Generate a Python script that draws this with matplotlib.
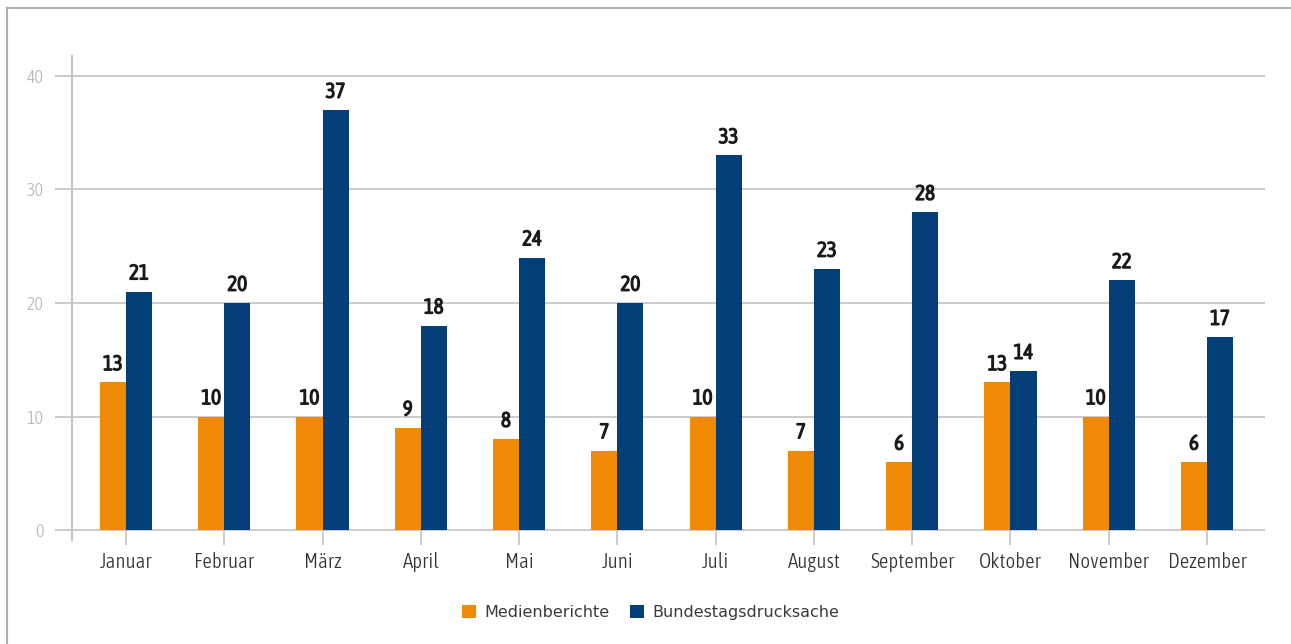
import matplotlib
matplotlib.use('Agg')
from matplotlib import pyplot as plt
from matplotlib import font_manager
from matplotlib.font_manager import FontProperties
from matplotlib.lines import Line2D
import matplotlib.patheffects as pe
import numpy as np

months = ['Januar', 'Februar', 'März', 'April', 'Mai', 'Juni', 'Juli',
          'August', 'September', 'Oktober', 'November', 'Dezember']
medien = [13, 10, 10, 9, 8, 7, 10, 7, 6, 13, 10, 6]
bundestag = [21, 20, 37, 18, 24, 20, 33, 23, 28, 14, 22, 17]
yticks = [0, 10, 20, 30, 40]

orange = '#F08A04'
blue = '#033E78'
grid_c = '#C4C4C4'

# look for a narrow font, the reference uses a condensed face
def narrow_font(weight):
    cands = [f for f in font_manager.fontManager.ttflist
             if f.style == 'normal' and ('Narrow' in f.name or 'Condensed' in f.name
                                         or f.stretch in ('condensed', 'semi-condensed', 'extra-condensed'))]
    if not cands:
        return None
    def w(f):
        try:
            return int(f.weight)
        except ValueError:
            return {'bold': 700, 'normal': 400, 'regular': 400, 'light': 300}.get(str(f.weight), 400)
    cands.sort(key=lambda f: abs(w(f) - weight))
    return cands[0].fname

reg_f = narrow_font(300)
reg_fp = FontProperties(fname=reg_f) if reg_f else FontProperties(family='DejaVu Sans')
shrink = 1.0 if reg_f else 0.85

fig = plt.figure(figsize=(12.91, 6.44), dpi=100)
# frame around the picture (left and top only)
fig.add_artist(Line2D([7 / 1291, 7 / 1291], [0, 1 - 8 / 644], transform=fig.transFigure, color='#B0B0B0', lw=1.5))
fig.add_artist(Line2D([7 / 1291, 1], [1 - 8 / 644, 1 - 8 / 644], transform=fig.transFigure, color='#B0B0B0', lw=1.5))

ax = fig.add_axes([72 / 1291, (644 - 540) / 644, (1265 - 72) / 1291, (540 - 56) / 644])
x = np.arange(len(months))
w = 0.265
b1 = ax.bar(x - w / 2, medien, w, color=orange, label='Medienberichte', zorder=3)
b2 = ax.bar(x + w / 2, bundestag, w, color=blue, label='Bundestagsdrucksache', zorder=3)

# value labels: condensed face, thickened with a stroke to look bold
for bars in (b1, b2):
    for r in bars:
        t = ax.annotate(str(int(r.get_height())), (r.get_x() + r.get_width() / 2, r.get_height()),
                        xytext=(0, 6), textcoords='offset points', ha='center', va='bottom',
                        color='#1A1A1A', fontproperties=reg_fp,
                        path_effects=[pe.withStroke(linewidth=1.1, foreground='#1A1A1A')])
        t.set_fontsize(15 * shrink)

ax.set_xlim(-0.549, 11.59)
ax.set_ylim(-0.88, 41.76)
for y in yticks:
    ax.axhline(y, color=grid_c, lw=1.2, zorder=1)

for s in ['top', 'right', 'bottom']:
    ax.spines[s].set_visible(False)
ax.spines['left'].set_color(grid_c)
ax.spines['left'].set_linewidth(1.5)
# x ticks hang from the zero line
ax.spines['bottom'].set_position(('data', 0))

ax.set_yticks(yticks)
ax.tick_params(axis='y', length=12.5, width=1.2, color=grid_c, pad=8)
ax.set_xticks(x)
ax.set_xticklabels(months)
ax.tick_params(axis='x', length=11, width=1.2, color=grid_c, pad=5)
for lbl in ax.get_yticklabels():
    lbl.set_fontproperties(reg_fp)
    lbl.set_fontsize(13 * shrink)
    lbl.set_color('#B8B8B8')
for lbl in ax.get_xticklabels():
    lbl.set_fontproperties(reg_fp)
    lbl.set_fontsize(15 * shrink)
    lbl.set_color('#333333')

ax.legend(loc='upper center', bbox_to_anchor=(0.5 + (650 - 668) / 1193, -0.105), ncol=2, frameon=False,
          fontsize=11.5, handlelength=0.9, handleheight=0.9, columnspacing=1.3, handletextpad=0.5,
          labelcolor='#3A3A3A')

fig.savefig('out.png', dpi=100)
